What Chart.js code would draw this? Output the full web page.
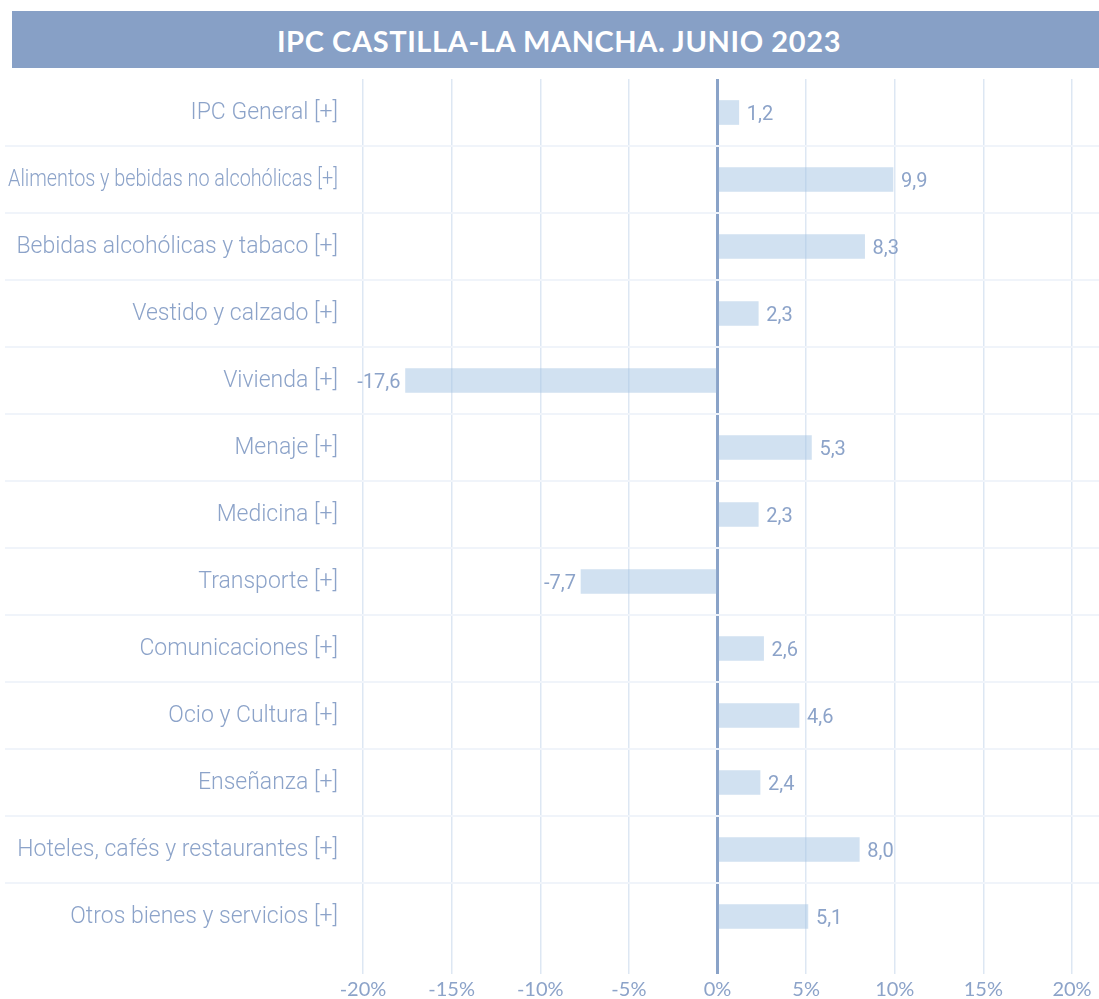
<!DOCTYPE html>
<html>
<head>
<meta charset="utf-8">
<script src="https://cdn.jsdelivr.net/npm/chart.js@4/dist/chart.umd.min.js"></script>
<style>
	html, body { margin:0; padding:0; background:#fff; }
	#wrap { position:relative; width:1099px; height:999px; }
	#titulo {
		position:absolute; left:12px; top:11px; width:1080px; height:57px; padding-left:7px;
		background:#87a0c6; color:#fff; text-align:center;
		font:700 29px Lato, sans-serif; line-height:59px; letter-spacing:0.6px;
	}
	canvas { position:absolute; left:0; top:0; }
</style>
</head>
<body>
<div id="wrap">
	<canvas id="grafico" width="1099" height="999"></canvas>
	<div id="titulo">IPC CASTILLA-LA MANCHA. JUNIO 2023</div>
</div>
<script>
// categorias y valores (variacion anual, %)
var categorias = [
	'IPC General [+]',
	'Alimentos y bebidas no alcohólicas [+]',
	'Bebidas alcohólicas y tabaco [+]',
	'Vestido y calzado [+]',
	'Vivienda [+]',
	'Menaje [+]',
	'Medicina [+]',
	'Transporte [+]',
	'Comunicaciones [+]',
	'Ocio y Cultura [+]',
	'Enseñanza [+]',
	'Hoteles, cafés y restaurantes [+]',
	'Otros bienes y servicios [+]'
];
var valores = [1.2, 9.9, 8.3, 2.3, -17.6, 5.3, 2.3, -7.7, 2.6, 4.6, 2.4, 8.0, 5.1];
var ejeMin = -20, ejeMax = 20, paso = 5;

var azul = '#8ca3c9';

// separadores entre filas, a todo lo ancho
var separadores = {
	id: 'separadores',
	beforeDatasetsDraw: function(chart){
		var ctx = chart.ctx, y = chart.scales.y;
		ctx.save();
		ctx.strokeStyle = '#f0f4fa';
		ctx.lineWidth = 2;
		for(var i=0;i<categorias.length-1;i++){
			var py = Math.round((y.getPixelForValue(i)+y.getPixelForValue(i+1))/2);
			ctx.beginPath(); ctx.moveTo(5,py); ctx.lineTo(chart.width,py); ctx.stroke();
		}
		ctx.restore();
	}
};

// etiquetas de categoria (comprimidas si no caben) y valores al final de la barra
var etiquetas = {
	id: 'etiquetas',
	afterDatasetsDraw: function(chart){
		var ctx = chart.ctx, x = chart.scales.x, y = chart.scales.y;
		ctx.save();
		ctx.fillStyle = azul;
		ctx.textBaseline = 'middle';
		ctx.font = '300 23px Roboto';
		ctx.textAlign = 'right';
		categorias.forEach(function(c,i){
			ctx.fillText(c, 338, y.getPixelForValue(i)+1, 330);
		});
		ctx.font = '400 20px Roboto';
		valores.forEach(function(v,i){
			var px = x.getPixelForValue(v), py = y.getPixelForValue(i)+2;
			var txt = v.toFixed(1).replace('.',',');
			if(v>=0){ ctx.textAlign='left'; ctx.fillText(txt, px+8, py); }
			else { ctx.textAlign='right'; ctx.fillText(txt, px-5, py); }
		});
		ctx.restore();
	}
};

const chart = new Chart(document.getElementById('grafico'), {
	type: 'bar',
	data: {
		labels: categorias,
		datasets: [{
			data: valores,
			backgroundColor: 'rgba(164,196,228,0.5)',
			borderWidth: 0,
			barThickness: 24
		}]
	},
	options: {
		indexAxis: 'y',
		responsive: false,
		animation: false,
		layout: { padding: { top: 79, right: 27, bottom: 0, left: 0 } },
		plugins: { legend: { display:false }, tooltip: { enabled:false }, title: { display:false } },
		scales: {
			x: {
				min: ejeMin, max: ejeMax,
				afterFit: function(s){ s.height = 49; },
				border: { display:false },
				grid: {
					color: function(c){ return c.tick && c.tick.value===0 ? '#8aa3c8' : '#dde7f3'; },
					lineWidth: function(c){ return c.tick && c.tick.value===0 ? 3 : 1.5; },
					tickLength: 24
				},
				ticks: {
					stepSize: paso,
					padding: 4,
					color: azul,
					font: { family:'Lato', size:20 },
					callback: function(v){ return v+'%'; }
				}
			},
			y: {
				afterFit: function(s){ s.width = 363; },
				border: { display:false },
				grid: { display:false },
				ticks: { display:false }
			}
		}
	},
	plugins: [separadores, etiquetas]
});
</script>
</body>
</html>
